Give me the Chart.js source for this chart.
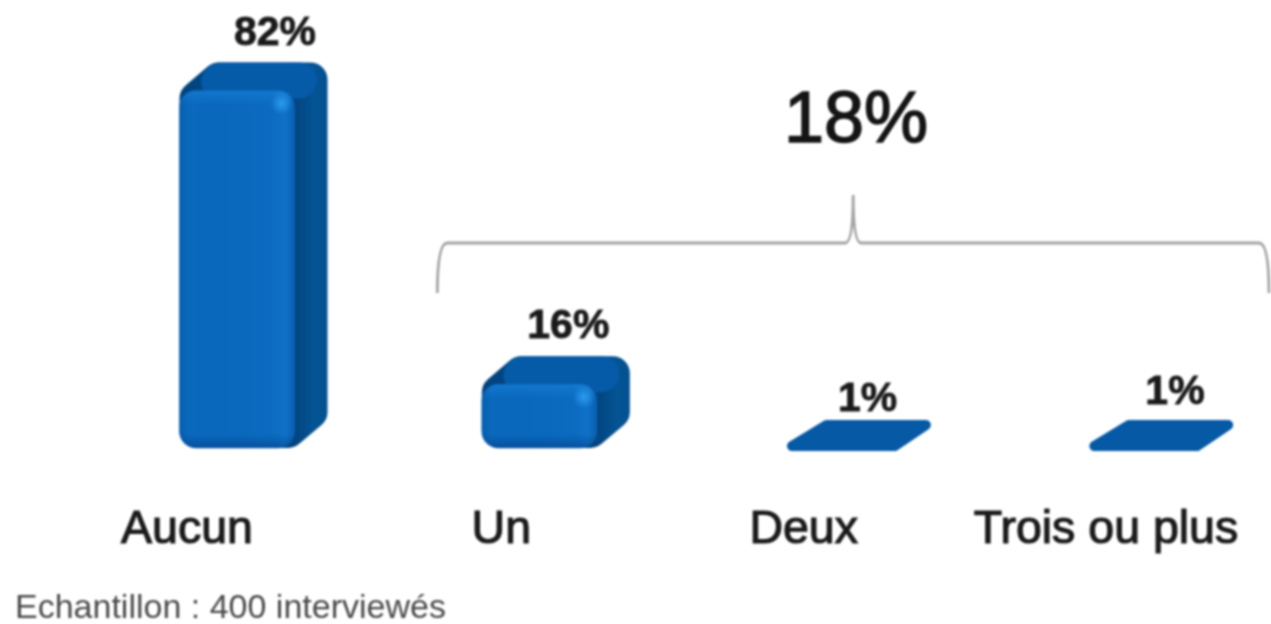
<!DOCTYPE html>
<html lang="fr">
<head>
<meta charset="utf-8">
<title>Echantillon</title>
<style>
  html, body { margin: 0; padding: 0; background: #fff; }
  #wrap { width: 1271px; height: 624px; }
  canvas { filter: blur(0.8px); }
</style>
<script src="https://cdn.jsdelivr.net/npm/chart.js@4/dist/chart.umd.min.js"></script>
</head>
<body>
<div id="wrap"><canvas id="chart"></canvas></div>
<script>
const categories = ["Aucun", "Un", "Deux", "Trois ou plus"];
const percents = [82, 16, 1, 1];
const groupTotal = "18%";
const footnote = "Echantillon : 400 interviewés";

const FONT = "'Liberation Sans', Arial, sans-serif";
const depthX = 33;
const depthY = 28;
const radius = 17;

function roundedPath(ctx, pts, r) {
  ctx.beginPath();
  const n = pts.length;
  ctx.moveTo((pts[n - 1][0] + pts[0][0]) / 2, (pts[n - 1][1] + pts[0][1]) / 2);
  for (let i = 0; i < n; i++) {
    const p = pts[i];
    const q = pts[(i + 1) % n];
    ctx.arcTo(p[0], p[1], q[0], q[1], r);
  }
  ctx.closePath();
}

function barBox(el) {
  const top = Math.min(el.y, el.base);
  const bottom = Math.max(el.y, el.base);
  return { x0: el.x - el.width / 2, x1: el.x + el.width / 2, top, bottom, h: bottom - top };
}

// back and top faces go under the bars the library draws
const depthFaces = {
  id: "depthFaces",
  beforeDatasetsDraw(chart) {
    const ctx = chart.ctx;
    chart.getDatasetMeta(0).data.forEach((el) => {
      const b = barBox(el);
      ctx.save();
      if (b.h < 10) {
        // a 1% bar is nearly only its top face
        ctx.fillStyle = "#0559a5";
        roundedPath(ctx, [
          [b.x0 - 10, b.bottom],
          [b.x0 + depthX + 8, b.bottom - depthY - 3],
          [b.x1 + depthX + 10, b.bottom - depthY - 3],
          [b.x1 - 3, b.bottom],
        ], 5);
        ctx.fill();
        return ctx.restore();
      }
      const side = ctx.createLinearGradient(b.x1, 0, b.x1 + depthX, 0);
      side.addColorStop(0, "#02447f");
      side.addColorStop(0.6, "#045494");
      side.addColorStop(1, "#03508f");
      ctx.fillStyle = side;
      roundedPath(ctx, [
        [b.x0, b.top],
        [b.x0 + depthX, b.top - depthY],
        [b.x1 + depthX, b.top - depthY],
        [b.x1 + depthX, b.bottom - depthY],
        [b.x1, b.bottom],
        [b.x0, b.bottom],
      ], radius);
      ctx.fill();
      ctx.fillStyle = "#055ba8";
      roundedPath(ctx, [
        [b.x0, b.top + 8],
        [b.x0 + depthX, b.top - depthY],
        [b.x1 + depthX - 4, b.top - depthY],
        [b.x1 + depthX - 16, b.top + 8],
      ], radius);
      ctx.fill();
      ctx.restore();
    });
  },
};

// shine on the front faces, value labels, bracket and notes
const overlays = {
  id: "overlays",
  beforeDraw(chart) {
    // "Aucun" sits further left of its bar than the other labels
    const items = chart.scales.x.getLabelItems(chart.chartArea);
    items[0].options.translation[0] -= 12;
  },
  afterDatasetsDraw(chart) {
    const ctx = chart.ctx;
    const xs = chart.scales.x;
    const meta = chart.getDatasetMeta(0).data;

    meta.forEach((el) => {
      const b = barBox(el);
      if (b.h < 10) return;
      ctx.save();
      ctx.beginPath();
      ctx.roundRect(b.x0, b.top, b.x1 - b.x0, b.h, radius);
      ctx.clip();
      const g = ctx.createLinearGradient(b.x0, 0, b.x1, 0);
      g.addColorStop(0, "rgba(0,60,130,0.25)");
      g.addColorStop(0.08, "rgba(0,60,130,0)");
      g.addColorStop(0.82, "rgba(30,140,230,0.08)");
      g.addColorStop(0.92, "rgba(30,140,230,0.25)");
      g.addColorStop(1, "rgba(0,70,140,0.3)");
      ctx.fillStyle = g;
      ctx.fillRect(b.x0, b.top, b.x1 - b.x0, b.h);
      const v = ctx.createLinearGradient(0, b.top, 0, b.bottom);
      const edge = 14 / b.h;
      v.addColorStop(0, "rgba(35,145,235,0.35)");
      v.addColorStop(edge, "rgba(35,145,235,0)");
      v.addColorStop(1 - edge, "rgba(0,50,120,0)");
      v.addColorStop(1, "rgba(0,50,120,0.45)");
      ctx.fillStyle = v;
      ctx.fillRect(b.x0, b.top, b.x1 - b.x0, b.h);
      const sx = b.x1 - 13;
      const sy = b.top + 13;
      const spot = ctx.createRadialGradient(sx, sy, 0, sx, sy, 11);
      spot.addColorStop(0, "rgba(45,160,245,0.9)");
      spot.addColorStop(1, "rgba(45,160,245,0)");
      ctx.fillStyle = spot;
      ctx.fillRect(sx - 11, sy - 11, 22, 22);
      ctx.restore();
    });

    // value labels, up and right of each bar
    const labelShift = [[38, -57], [29, -58], [26, -48], [31, -55]];
    ctx.save();
    ctx.fillStyle = "#1a1a1a";
    ctx.strokeStyle = "#1a1a1a";
    ctx.lineWidth = 0.8;
    ctx.font = "bold 41px " + FONT;
    ctx.textAlign = "center";
    ctx.textBaseline = "middle";
    meta.forEach((el, i) => {
      const top = Math.min(el.y, el.base);
      const text = percents[i] + "%";
      ctx.fillText(text, el.x + labelShift[i][0], top + labelShift[i][1]);
      ctx.strokeText(text, el.x + labelShift[i][0], top + labelShift[i][1]);
    });

    // total above the bracket
    ctx.fillStyle = "#141414";
    ctx.strokeStyle = "#141414";
    ctx.lineWidth = 1.6;
    ctx.font = "72px " + FONT;
    ctx.fillText(groupTotal, 856, 122);
    ctx.strokeText(groupTotal, 856, 122);

    // bracket over the last three categories
    const left = xs.getPixelForValue(1) - 102;
    const right = xs.getPixelForValue(3) + 125;
    const mid = (left + right) / 2;
    ctx.strokeStyle = "#a3a3a3";
    ctx.lineWidth = 2.8;
    ctx.beginPath();
    ctx.moveTo(left, 293);
    ctx.quadraticCurveTo(left, 243, left + 10, 243);
    ctx.lineTo(mid - 8, 243);
    ctx.quadraticCurveTo(mid, 243, mid, 195);
    ctx.quadraticCurveTo(mid, 243, mid + 8, 243);
    ctx.lineTo(right - 10, 243);
    ctx.quadraticCurveTo(right, 243, right, 293);
    ctx.stroke();

    ctx.fillStyle = "#4a4a4a";
    ctx.font = "34px " + FONT;
    ctx.textAlign = "left";
    ctx.fillText(footnote, 15, 609);
    ctx.restore();
  },
};

new Chart(document.getElementById("chart"), {
  type: "bar",
  data: {
    labels: categories,
    datasets: [{
      data: percents,
      base: 1.7,
      clip: false,
      // the flat 1% bars show only their top face
      backgroundColor: (c) => (c.raw < 2 ? "rgba(5,89,165,0)" : "#0a69bd"),
      barThickness: 115,
      borderRadius: { topLeft: 17, topRight: 17, bottomLeft: 17, bottomRight: 17 },
      borderSkipped: false,
    }],
  },
  options: {
    responsive: true,
    maintainAspectRatio: false,
    animation: false,
    layout: { padding: { top: 10.45, left: 237, right: 127, bottom: 0 } },
    plugins: { legend: { display: false }, tooltip: { enabled: false } },
    scales: {
      x: {
        offset: false,
        grid: { display: false },
        border: { display: false },
        afterFit: (scale) => {
          scale.height = 173;
          scale.paddingLeft = 0;
          scale.paddingRight = 0;
        },
        ticks: {
          color: "#1a1a1a",
          font: { family: FONT, size: 46.5 },
          textStrokeColor: "#1a1a1a",
          textStrokeWidth: 1.2,
          padding: 43,
          labelOffset: -38,
          maxRotation: 0,
          autoSkip: false,
        },
      },
      y: { display: false, min: 1, max: 100 },
    },
  },
  plugins: [depthFaces, overlays],
});
</script>
</body>
</html>
